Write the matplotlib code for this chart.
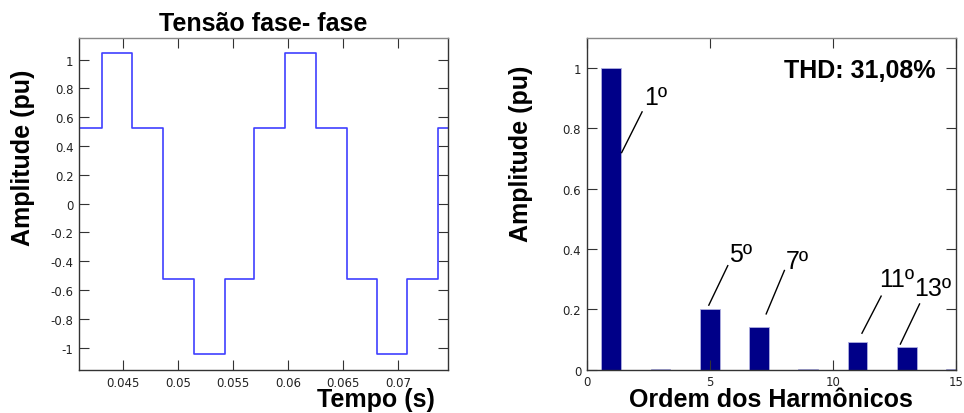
import numpy as np
import matplotlib
matplotlib.use("Agg")
import matplotlib.pyplot as plt

plt.rcParams['font.family'] = ['Liberation Sans', 'DejaVu Sans']

# tensao fase-fase (onda de 6 degraus), instantes de comutacao e niveis
t_edges = [0.0405, 0.0431, 0.0458, 0.0486, 0.0514, 0.0542, 0.0569,
           0.0597, 0.0625, 0.0653, 0.0681, 0.0708, 0.0736, 0.0750]
v_levels = [0.5236, 1.0472, 0.5236, -0.5236, -1.0472, -0.5236,
            0.5236, 1.0472, 0.5236, -0.5236, -1.0472, -0.5236, 0.5236]

# espectro harmonico
ordem = [1, 3, 5, 7, 9, 11, 13, 15]
amplitude = [1.0, 0.003, 0.2, 0.143, 0.003, 0.0909, 0.0769, 0.003]
thd_txt = "THD: 31,08%"

# rotulos das harmonicas: texto, ponta da seta, inicio da seta, posicao do texto
rot_ordem = ["1º", "5º", "7º", "11º", "13º"]
rot_ponta = [(1.42, 0.72), (4.96, 0.214), (7.29, 0.185), (11.18, 0.121), (12.74, 0.085)]
rot_ini = [(2.25, 0.855), (5.73, 0.345), (8.03, 0.329), (11.96, 0.244), (13.52, 0.218)]
rot_txt = [(2.8, 0.905), (6.25, 0.385), (8.55, 0.36), (12.6, 0.3), (14.07, 0.27)]

fig = plt.figure(figsize=(9.64, 4.14), dpi=100)
W, H = 964.0, 414.0
ax1 = fig.add_axes([79 / W, 1 - 371 / H, 369 / W, 332 / H])
ax2 = fig.add_axes([586.7 / W, 1 - 370.7 / H, 369.3 / W, 331.7 / H])

lab = dict(fontsize=18, fontweight='bold')
tick_font = dict(family='DejaVu Sans', size=8.5)

# --- painel esquerdo
ax1.step(t_edges, v_levels + [v_levels[-1]], where='post', color='#3f3fff', lw=1.2)
ax1.set_xlim(0.04097, 0.07452)
ax1.set_ylim(-1.155, 1.15)
ax1.set_xticks([0.045, 0.05, 0.055, 0.06, 0.065, 0.07])
ax1.set_xticklabels(['0.045', '0.05', '0.055', '0.06', '0.065', '0.07'])
ax1.set_yticks([-1, -0.8, -0.6, -0.4, -0.2, 0, 0.2, 0.4, 0.6, 0.8, 1])
ax1.set_yticklabels(['-1', '-0.8', '-0.6', '-0.4', '-0.2', '0', '0.2', '0.4', '0.6', '0.8', '1'])
ax1.set_title("Tensão fase- fase", pad=6, **lab)
ax1.set_ylabel("Amplitude (pu)", va='center', **lab)
ax1.yaxis.set_label_coords(-0.153, 0.643)
ax1.set_xlabel("Tempo (s)", va='center', **lab)
ax1.xaxis.set_label_coords(0.806, -0.087)

# --- painel direito
ax2.bar(ordem, amplitude, width=0.8, color='#000088', edgecolor='#b0b0e0', lw=0.6)
ax2.set_xlim(0, 15)
ax2.set_ylim(0, 1.1)
ax2.set_xticks([0, 5, 10, 15])
ax2.set_yticks([0, 0.2, 0.4, 0.6, 0.8, 1])
ax2.set_yticklabels(['0', '0.2', '0.4', '0.6', '0.8', '1'])
ax2.set_ylabel("Amplitude (pu)", va='center', **lab)
ax2.yaxis.set_label_coords(-0.1766, 0.653)
ax2.set_xlabel("Ordem dos Harmônicos", va='center', **lab)
ax2.xaxis.set_label_coords(0.5, -0.088)
ax2.text(0.945, 0.905, thd_txt, transform=ax2.transAxes, ha='right', va='center', **lab)

for txt, p, s, q in zip(rot_ordem, rot_ponta, rot_ini, rot_txt):
    ax2.plot([s[0], p[0]], [s[1], p[1]], color='black', lw=1)
    ax2.text(q[0], q[1], txt, fontsize=18, ha='center', va='center')

for ax in (ax1, ax2):
    ax.tick_params(direction='in', length=7, width=0.8, top=True, right=True,
                   colors='#333333', labelcolor='#222222', pad=4)
    for lbl in ax.get_xticklabels() + ax.get_yticklabels():
        lbl.set_fontfamily(tick_font['family'])
        lbl.set_fontsize(tick_font['size'])
    for sp in ax.spines.values():
        sp.set_color('#333333')
        sp.set_linewidth(1.0)
    ax.spines['top'].set_color('#888888')

plt.savefig('out.png', dpi=100)
